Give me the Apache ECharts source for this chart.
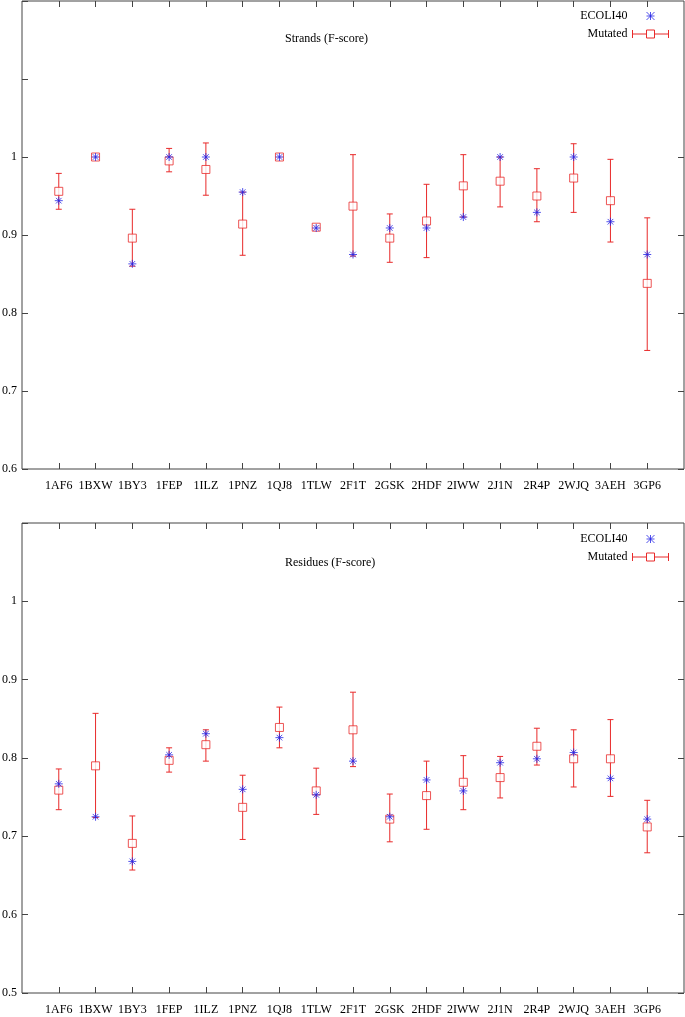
<!DOCTYPE html>
<html>
<head>
<meta charset="utf-8">
<script src="https://cdn.jsdelivr.net/npm/echarts@6.0.0/dist/echarts.min.js"></script>
<style>
html,body{margin:0;padding:0;background:#fff;}
#chart{width:685px;height:1017px;}
</style>
</head>
<body>
<div id="chart"></div>
<script>
const categories = ['1AF6','1BXW','1BY3','1FEP','1ILZ','1PNZ','1QJ8','1TLW','2F1T','2GSK','2HDF','2IWW','2J1N','2R4P','2WJQ','3AEH','3GP6'];

const strandsEcoli = [0.944,1.000,0.863,1.000,1.000,0.955,1.000,0.909,0.875,0.909,0.909,0.923,1.000,0.929,1.000,0.917,0.875];
const strandsMut   = [0.956,1.000,0.896,0.995,0.984,0.914,1.000,0.910,0.937,0.896,0.918,0.963,0.969,0.950,0.973,0.944,0.838];
const strandsLo    = [0.933,1.000,0.860,0.981,0.951,0.874,1.000,0.908,0.873,0.865,0.871,0.923,0.936,0.917,0.929,0.891,0.752];
const strandsHi    = [0.979,1.000,0.933,1.011,1.018,0.955,1.000,0.912,1.003,0.927,0.965,1.003,1.000,0.985,1.017,0.997,0.922];

const residuesEcoli = [0.767,0.725,0.668,0.804,0.831,0.760,0.826,0.753,0.796,0.725,0.772,0.758,0.794,0.799,0.807,0.774,0.722];
const residuesMut   = [0.759,0.790,0.691,0.797,0.817,0.737,0.839,0.758,0.836,0.722,0.752,0.769,0.775,0.815,0.799,0.799,0.712];
const residuesLo    = [0.734,0.724,0.657,0.782,0.796,0.696,0.813,0.728,0.789,0.693,0.709,0.734,0.749,0.791,0.763,0.751,0.679];
const residuesHi    = [0.786,0.857,0.726,0.813,0.836,0.778,0.865,0.787,0.884,0.754,0.796,0.803,0.802,0.838,0.836,0.849,0.746];

const strandsTicks  = [0.6,0.7,0.8,0.9,1.0];
const residuesTicks = [0.5,0.6,0.7,0.8,0.9,1.0];

const FONT = 'Liberation Serif';
const FRAME = '#444';
const BLUE = '#2626e6';
const RED = '#e82a2a';
const ASTER = 'path://M5,0L5,10M0,5L10,5M1.5,1.5L8.5,8.5M8.5,1.5L1.5,8.5';
const ASTER_ICON = 'path://M0,0M36,8M14,0L22,8M22,0L14,8M18,0L18,8M14,4L22,4';
const ERR_ICON = 'path://M0,0L0,8M0,4L14,4M14,0L22,0L22,8L14,8ZM22,4L36,4M36,0L36,8';

const idx = categories.map((c,i)=>i);
const fmtY = v => String(Math.round(v*10)/10);

function xAxes(gi){
  return [
    {type:'value', gridIndex:gi, position:'bottom', min:-1, max:17, interval:1,
     axisLine:{show:false, onZero:false}, splitLine:{show:false},
     axisTick:{inside:true, length:6, customValues:idx, lineStyle:{color:FRAME}},
     axisLabel:{customValues:idx, formatter:v=>categories[v]||'', margin:11,
       fontFamily:FONT, fontSize:12, color:'#000'}},
    {type:'value', gridIndex:gi, position:'top', min:-1, max:17, interval:1,
     axisLine:{show:false, onZero:false}, splitLine:{show:false},
     axisTick:{inside:true, length:6, customValues:idx, lineStyle:{color:FRAME}},
     axisLabel:{show:false}}
  ];
}
function yAxes(gi, min, max, ticks){
  return [
    {type:'value', gridIndex:gi, position:'left', min:min, max:max, interval:0.1,
     axisLine:{show:false, onZero:false}, splitLine:{show:false},
     axisTick:{show:false},
     axisLabel:{customValues:ticks, formatter:fmtY, margin:5,
       fontFamily:FONT, fontSize:12, color:'#000'}},
    {type:'value', gridIndex:gi, position:'left', offset:0, min:min, max:max, interval:0.1,
     axisLine:{show:false, onZero:false}, splitLine:{show:false},
     axisTick:{show:true, inside:true, length:6, lineStyle:{color:FRAME}},
     axisLabel:{show:false}},
    {type:'value', gridIndex:gi, position:'right', min:min, max:max, interval:0.1,
     axisLine:{show:false, onZero:false}, splitLine:{show:false},
     axisTick:{inside:true, length:6, customValues:ticks, lineStyle:{color:FRAME}},
     axisLabel:{show:false}}
  ];
}

function panelSeries(xi, yi, ecoli, mut, lo, hi){
  const errData = idx.map(i=>[i, mut[i], lo[i], hi[i]]);
  return [
    {name:'Mutated', type:'custom', xAxisIndex:xi, yAxisIndex:yi,
     encode:{x:0, y:[1,2,3]}, data:errData, z:2,
     renderItem:function(params, api){
       const x = api.value(0);
       const pLo = api.coord([x, api.value(2)]);
       const pHi = api.coord([x, api.value(3)]);
       const cw = 3;
       const st = {stroke:RED, lineWidth:1};
       return {type:'group', children:[
         {type:'line', shape:{x1:pLo[0], y1:pLo[1], x2:pHi[0], y2:pHi[1]}, style:st},
         {type:'line', shape:{x1:pLo[0]-cw, y1:pLo[1], x2:pLo[0]+cw, y2:pLo[1]}, style:st},
         {type:'line', shape:{x1:pHi[0]-cw, y1:pHi[1], x2:pHi[0]+cw, y2:pHi[1]}, style:st}
       ]};
     }},
    {name:'Mutated', type:'scatter', xAxisIndex:xi, yAxisIndex:yi,
     data:idx.map(i=>[i, mut[i]]), symbol:'rect', symbolSize:8, z:3,
     itemStyle:{color:'#fff', borderColor:RED, borderWidth:1}},
    {name:'ECOLI40', type:'scatter', xAxisIndex:xi, yAxisIndex:yi,
     data:idx.map(i=>[i, ecoli[i]]), symbol:ASTER, symbolSize:8, z:4,
     itemStyle:{color:'transparent', borderColor:BLUE, borderWidth:1}}
  ];
}

function legendAt(top){
  return {
    orient:'vertical', align:'right', right:11, top:top,
    itemWidth:36, itemHeight:8, itemGap:6,
    textStyle:{fontFamily:FONT, fontSize:12, color:'#000'},
    selectedMode:false,
    data:[
      {name:'ECOLI40', icon:ASTER_ICON, itemStyle:{color:'transparent', borderColor:BLUE, borderWidth:1}},
      {name:'Mutated', icon:ERR_ICON, itemStyle:{color:'transparent', borderColor:RED, borderWidth:1}}
    ]
  };
}

const chart = echarts.init(document.getElementById('chart'), null, {renderer:'canvas'});
chart.setOption({
  animation:false,
  backgroundColor:'#fff',
  title:[
    {text:'Strands (F-score)', left:280, top:28,
     textStyle:{fontFamily:FONT, fontSize:12, fontWeight:'normal', color:'#000'}},
    {text:'Residues (F-score)', left:280, top:552,
     textStyle:{fontFamily:FONT, fontSize:12, fontWeight:'normal', color:'#000'}}
  ],
  legend:[legendAt(5), legendAt(528)],
  grid:[
    {left:22, top:1, width:662, height:468, show:true, borderColor:FRAME, borderWidth:1,
     backgroundColor:'transparent', outerBoundsMode:'none'},
    {left:22, top:523, width:662, height:470, show:true, borderColor:FRAME, borderWidth:1,
     backgroundColor:'transparent', outerBoundsMode:'none'}
  ],
  xAxis:[...xAxes(0), ...xAxes(1)],
  yAxis:[...yAxes(0, 0.6, 1.2, strandsTicks), ...yAxes(1, 0.5, 1.1, residuesTicks)],
  series:[
    ...panelSeries(0, 0, strandsEcoli, strandsMut, strandsLo, strandsHi),
    ...panelSeries(2, 3, residuesEcoli, residuesMut, residuesLo, residuesHi)
  ]
});
</script>
</body>
</html>
